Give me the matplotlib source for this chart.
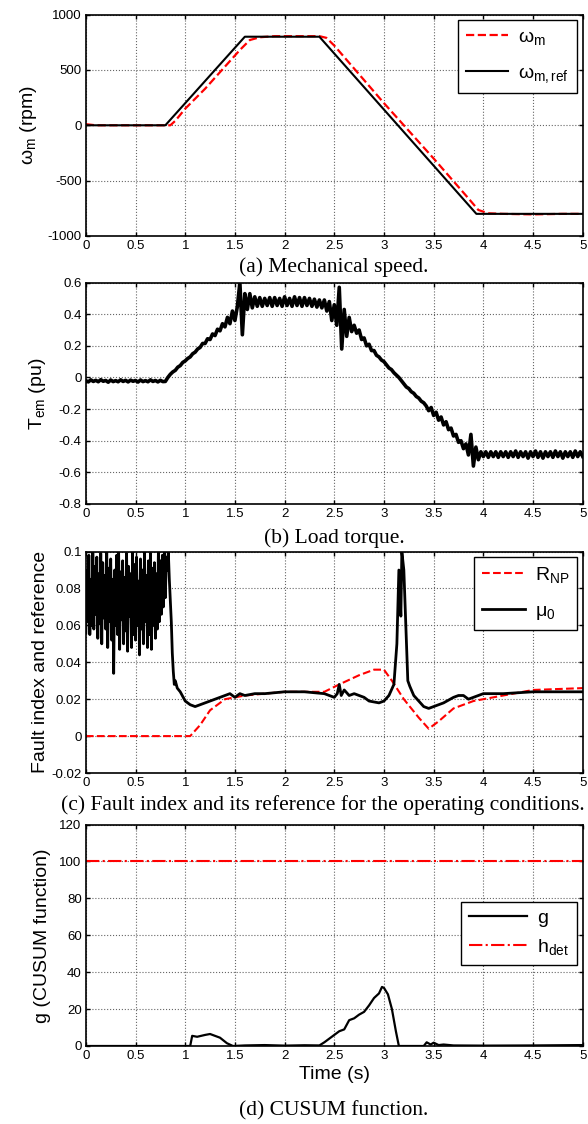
import numpy as np
import matplotlib.pyplot as plt

plt.rcParams['font.family'] = ['Liberation Sans', 'DejaVu Sans']
plt.rcParams['mathtext.fontset'] = 'custom'
plt.rcParams['mathtext.rm'] = 'Liberation Sans'
plt.rcParams['mathtext.it'] = 'Liberation Sans'
plt.rcParams['axes.unicode_minus'] = False

# (a) mechanical speed
t_ref = [0, 0.8, 1.6, 2.35, 3.93, 5.0]
w_ref = [0, 0, 800, 800, -800, -800]
t_wm = [0, 0.05, 0.1, 0.85, 0.9, 1.0, 1.2, 1.4, 1.55, 1.65, 1.75, 1.9, 2.1, 2.35,
        2.42, 2.5, 3.0, 3.5, 3.85, 3.95, 4.05, 4.2, 4.5, 4.8, 5.0]
w_m = [10, 5, 0, 0, 40, 150, 330, 530, 680, 770, 795, 805, 805, 805,
       790, 720, 200, -300, -660, -765, -795, -800, -805, -800, -800]

# (b) load torque, sampled every 0.025 s
t_torque = np.linspace(0, 5, 201)
torque = [
    -0.020, -0.028, -0.015, -0.025, -0.018, -0.027, -0.014, -0.024, -0.019, -0.030,
    -0.016, -0.026, -0.020, -0.027, -0.015, -0.025, -0.018, -0.028, -0.017, -0.024,
    -0.019, -0.029, -0.016, -0.026, -0.020, -0.027, -0.015, -0.025, -0.019, -0.028,
    -0.018, -0.026,
    -0.025, 0.000, 0.020, 0.035, 0.045, 0.065, 0.075, 0.095, 0.105, 0.120,
    0.130, 0.150, 0.160, 0.180, 0.190, 0.215, 0.215, 0.245, 0.240, 0.275,
    0.265, 0.305, 0.295, 0.340, 0.320, 0.380, 0.340, 0.420, 0.360,
    0.450, 0.600, 0.270, 0.530,
    0.430, 0.530, 0.440, 0.510, 0.450, 0.505, 0.450, 0.500, 0.455, 0.505,
    0.450, 0.505, 0.455, 0.500, 0.450, 0.510, 0.455, 0.500, 0.450, 0.510,
    0.455, 0.505, 0.450, 0.505, 0.455, 0.500, 0.450, 0.495, 0.445, 0.490,
    0.440, 0.490, 0.420, 0.480,
    0.360, 0.460, 0.330, 0.570, 0.180, 0.430, 0.260, 0.380, 0.290, 0.330,
    0.280, 0.300, 0.240, 0.250, 0.200, 0.210, 0.170, 0.170, 0.140, 0.130,
    0.110, 0.100, 0.080, 0.060, 0.050, 0.030, 0.015, 0.000, -0.020, -0.040,
    -0.060, -0.070, -0.090, -0.100, -0.120, -0.130, -0.150, -0.160, -0.180, -0.210,
    -0.190, -0.240,
    -0.220, -0.270, -0.250, -0.300, -0.280, -0.330, -0.320, -0.370, -0.360, -0.410,
    -0.400, -0.450, -0.420, -0.490, -0.360, -0.560, -0.440, -0.520, -0.470,
    -0.500, -0.470, -0.505, -0.470, -0.500, -0.470, -0.505, -0.470, -0.500, -0.470,
    -0.505, -0.470, -0.500, -0.465, -0.505, -0.470, -0.500, -0.470, -0.510, -0.470,
    -0.500, -0.465, -0.505, -0.470, -0.510, -0.470, -0.500, -0.470, -0.505, -0.465,
    -0.500, -0.470, -0.510, -0.470, -0.500, -0.470, -0.505, -0.465, -0.500, -0.470,
    -0.500,
]

# (c) fault index and reference
t_rnp = [0, 1.05, 1.15, 1.25, 1.4, 1.6, 2.0, 2.4, 2.55, 2.75, 2.9, 3.0, 3.08, 3.2,
         3.35, 3.45, 3.55, 3.7, 3.9, 4.2, 4.5, 5.0]
r_np = [0, 0, 0.006, 0.014, 0.020, 0.022, 0.024, 0.024, 0.028, 0.033, 0.036, 0.036,
        0.030, 0.020, 0.010, 0.004, 0.008, 0.015, 0.019, 0.022, 0.025, 0.026]
t_mu_noisy = np.linspace(0, 0.84, 85)
mu_noisy = [
    0.056, 0.090, 0.062, 0.098, 0.055, 0.085, 0.060, 0.100, 0.058, 0.092,
    0.066, 0.097, 0.053, 0.088, 0.061, 0.099, 0.050, 0.094, 0.064, 0.087,
    0.058, 0.100, 0.048, 0.091, 0.062, 0.096, 0.052, 0.085, 0.034, 0.090,
    0.060, 0.098, 0.055, 0.100, 0.047, 0.089, 0.063, 0.095, 0.050, 0.086,
    0.057, 0.099, 0.046, 0.092, 0.065, 0.088, 0.048, 0.100, 0.055, 0.093,
    0.052, 0.097, 0.060, 0.084, 0.044, 0.096, 0.058, 0.090, 0.050, 0.100,
    0.062, 0.087, 0.048, 0.095, 0.055, 0.099, 0.047, 0.091, 0.060, 0.094,
    0.053, 0.088, 0.058, 0.100, 0.062, 0.095, 0.066, 0.098, 0.070, 0.100,
    0.075, 0.097, 0.090, 0.100, 0.085,
]
t_mu_rest = [0.86, 0.87, 0.88, 0.89, 0.9, 0.92, 0.95, 1.0, 1.05, 1.1, 1.15, 1.2, 1.3,
             1.4, 1.45, 1.5, 1.55, 1.6, 1.7, 1.8, 2.0, 2.2, 2.4, 2.5, 2.53, 2.55,
             2.57, 2.6, 2.65, 2.7, 2.8, 2.85, 2.95, 3.0, 3.05, 3.1, 3.13, 3.15, 3.17,
             3.18, 3.2, 3.22, 3.24, 3.26, 3.3, 3.35, 3.4, 3.45, 3.5, 3.6, 3.7, 3.75,
             3.8, 3.85, 3.9, 4.0, 4.2, 4.5, 5.0]
mu_rest = [0.062, 0.045, 0.035, 0.028, 0.030, 0.026, 0.024, 0.019, 0.017, 0.016,
           0.017, 0.018, 0.020, 0.022, 0.023, 0.021, 0.023, 0.022, 0.023, 0.023,
           0.024, 0.024, 0.023, 0.021, 0.023, 0.028, 0.022, 0.025, 0.022, 0.023,
           0.021, 0.019, 0.018, 0.019, 0.022, 0.028, 0.050, 0.090, 0.065, 0.100,
           0.090, 0.060, 0.030, 0.027, 0.022, 0.019, 0.016, 0.015, 0.016, 0.018,
           0.021, 0.022, 0.022, 0.020, 0.021, 0.023, 0.023, 0.024, 0.024]

# (d) CUSUM
h_det = 100
t_g = [0, 1.05, 1.07, 1.12, 1.2, 1.25, 1.3, 1.35, 1.42, 1.48, 1.6, 1.8, 2.0, 2.2,
       2.35, 2.4, 2.45, 2.5, 2.55, 2.6, 2.65, 2.7, 2.75, 2.8, 2.85, 2.9, 2.95, 2.98,
       3.0, 3.04, 3.08, 3.12, 3.15, 3.4, 3.43, 3.47, 3.5, 3.55, 3.6, 3.7, 4.0, 4.5, 5.0]
g = [0, 0, 5.5, 5.0, 6.0, 6.5, 5.5, 4.5, 1.5, 0, 0.3, 0.5, 0.2, 0.4,
     0.3, 2.0, 4.0, 6.0, 8.0, 9.0, 14.0, 15.0, 17.0, 18.5, 22.0, 26.0, 28.5, 32.0,
     31.5, 28.0, 20.0, 8.0, 0, 0, 2.0, 0.8, 1.8, 0.5, 0.8, 0.3, 0.2, 0.3, 0.5]

fig = plt.figure(figsize=(5.88, 11.24), dpi=100)
left, width, height = 0.146, 0.845, 0.197
bottoms = [1 - 236 / 1124, 1 - 504 / 1124, 1 - 773 / 1124, 1 - 1046 / 1124]
axes = [fig.add_axes([left, b, width, height]) for b in bottoms]

for ax in axes:
    ax.set_xlim(0, 5)
    ax.set_xticks(np.arange(0, 5.01, 0.5))
    ax.set_xticklabels(['0', '0.5', '1', '1.5', '2', '2.5', '3', '3.5', '4', '4.5', '5'])
    ax.grid(True, linestyle=':', color='#666666', linewidth=0.8)
    ax.tick_params(direction='in', top=True, right=True, labelsize=9.5, length=3,
                   width=1, pad=3)
    for s in ax.spines.values():
        s.set_linewidth(1.2)

leg_kw = dict(fontsize=14, fancybox=False, edgecolor='black', framealpha=1,
              borderpad=0.4, labelspacing=0.9, handletextpad=0.5, borderaxespad=0.3)

ax = axes[0]
ax.plot(t_wm, w_m, '--', color='red', lw=1.6, label='ω$_{\\rm m}$')
ax.plot(t_ref, w_ref, '-', color='black', lw=1.5, label='ω$_{\\rm m,ref}$')
ax.set_ylim(-1000, 1000)
ax.set_yticks([-1000, -500, 0, 500, 1000])
ax.set_ylabel('ω$_{\\rm m}$ (rpm)', fontsize=14, labelpad=6)
ax.legend(loc='upper right', handlelength=2.2, **leg_kw)

ax = axes[1]
ax.plot(t_torque, torque, '-', color='black', lw=2.6)
ax.set_ylim(-0.8, 0.6)
ax.set_yticks(np.arange(-0.8, 0.61, 0.2))
ax.set_yticklabels(['-0.8', '-0.6', '-0.4', '-0.2', '0', '0.2', '0.4', '0.6'])
ax.set_ylabel('T$_{\\rm em}$ (pu)', fontsize=14, labelpad=8)

ax = axes[2]
ax.plot(t_rnp, r_np, '--', color='red', lw=1.5, label='R$_{\\rm NP}$')
ax.plot(list(t_mu_noisy) + t_mu_rest, mu_noisy + mu_rest, '-', color='black', lw=2.0,
        label='μ$_{\\rm 0}$')
ax.set_ylim(-0.02, 0.1)
ax.set_yticks([-0.02, 0, 0.02, 0.04, 0.06, 0.08, 0.1])
ax.set_yticklabels(['-0.02', '0', '0.02', '0.04', '0.06', '0.08', '0.1'])
ax.set_ylabel('Fault index and reference', fontsize=14, labelpad=2)
ax.legend(loc='upper right', handlelength=2.2, **leg_kw)

ax = axes[3]
ax.plot(t_g, g, '-', color='black', lw=1.6, label='g')
ax.axhline(h_det, color='red', linestyle='-.', lw=1.5, label='h$_{\\rm det}$')
ax.set_ylim(0, 120)
ax.set_yticks(np.arange(0, 121, 20))
ax.set_ylabel('g (CUSUM function)', fontsize=14, labelpad=6)
ax.set_xlabel('Time (s)', fontsize=14, labelpad=3)
leg_kw_d = dict(leg_kw, labelspacing=0.5)
ax.legend(loc='center right', handlelength=3.0, bbox_to_anchor=(1.0, 0.51), **leg_kw_d)

caption_kw = dict(ha='center', va='center', fontsize=15.5, family='Liberation Serif')
fig.text(0.568, 1 - 267 / 1124, '(a) Mechanical speed.', **caption_kw)
fig.text(0.568, 1 - 538 / 1124, '(b) Load torque.', **caption_kw)
fig.text(0.549, 1 - 805 / 1124, '(c) Fault index and its reference for the operating conditions.',
         **caption_kw)
fig.text(0.568, 1 - 1111 / 1124, '(d) CUSUM function.', **caption_kw)

fig.savefig('out.png', dpi=100)
